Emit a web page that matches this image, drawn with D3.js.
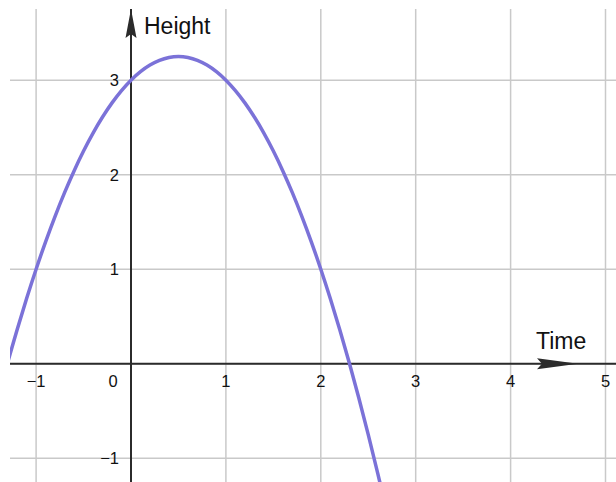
<!DOCTYPE html>
<html>
<head>
<meta charset="utf-8">
<script src="https://cdn.jsdelivr.net/npm/d3@7"></script>
<style>
  html, body { margin: 0; padding: 0; background: #fff; }
  svg { display: block; }
  text { font-family: "Liberation Sans", Arial, Helvetica, sans-serif; fill: #111; }
</style>
</head>
<body>
<svg id="chart" width="616" height="482"></svg>
<script>
// Projectile height over time (sampled points along the path)
const timeValues = [-1.3, -1.2, -1.1, -1.0, -0.9, -0.8, -0.7, -0.6, -0.5, -0.4, -0.3, -0.2, -0.1,
  0.0, 0.1, 0.2, 0.3, 0.4, 0.5, 0.6, 0.7, 0.8, 0.9, 1.0, 1.1, 1.2, 1.3, 1.4, 1.5, 1.6, 1.7,
  1.8, 1.9, 2.0, 2.1, 2.2, 2.3, 2.4, 2.5, 2.6, 2.7];
const heightValues = [0.01, 0.36, 0.69, 1.00, 1.29, 1.56, 1.81, 2.04, 2.25, 2.44, 2.61, 2.76, 2.89,
  3.00, 3.09, 3.16, 3.21, 3.24, 3.25, 3.24, 3.21, 3.16, 3.09, 3.00, 2.89, 2.76, 2.61, 2.44, 2.25, 2.04, 1.81,
  1.56, 1.29, 1.00, 0.69, 0.36, 0.01, -0.36, -0.75, -1.16, -1.59];

const xTicks = [-1, 0, 1, 2, 3, 4, 5];
const yTicks = [-1, 1, 2, 3];
const xLabel = "Time";
const yLabel = "Height";

const svg = d3.select("#chart");
const plot = { left: 10, top: 9, right: 616, bottom: 482 };

const x = d3.scaleLinear().domain([0, 1]).range([131, 225.9]);
const y = d3.scaleLinear().domain([0, 1]).range([363.7, 269.2]);

svg.append("defs").append("clipPath").attr("id", "plotClip")
  .append("rect")
  .attr("x", plot.left).attr("y", plot.top)
  .attr("width", plot.right - plot.left).attr("height", plot.bottom - plot.top);

// Grid
const grid = svg.append("g").attr("stroke", "#c9c9c9").attr("stroke-width", 1.5);
grid.selectAll("line.v").data(xTicks).join("line")
  .attr("class", "v")
  .attr("x1", d => x(d)).attr("x2", d => x(d))
  .attr("y1", plot.top).attr("y2", plot.bottom);
grid.selectAll("line.h").data(yTicks.concat([0])).join("line")
  .attr("class", "h")
  .attr("x1", plot.left).attr("x2", plot.right)
  .attr("y1", d => y(d)).attr("y2", d => y(d));

// Axes
const axes = svg.append("g").attr("stroke", "#2b2b2b").attr("stroke-width", 2);
axes.append("line")
  .attr("x1", plot.left).attr("x2", plot.right)
  .attr("y1", y(0)).attr("y2", y(0));
axes.append("line")
  .attr("x1", x(0)).attr("x2", x(0))
  .attr("y1", plot.top).attr("y2", plot.bottom);

// Arrow heads
const ax0 = x(0), ay0 = y(0);
svg.append("path")
  .attr("fill", "#2b2b2b")
  .attr("d", `M${ax0},${plot.top} L${ax0 + 5.5},${plot.top + 29} L${ax0},${plot.top + 25} L${ax0 - 5.5},${plot.top + 29} Z`);
svg.append("path")
  .attr("fill", "#2b2b2b")
  .attr("d", `M578,${ay0} L${578 - 41},${ay0 - 5.5} L${578 - 36},${ay0} L${578 - 41},${ay0 + 5.5} Z`);

// Tick labels
const fmt = d => d < 0 ? "\u2212" + Math.abs(d) : String(d);
svg.append("g").selectAll("text").data(xTicks).join("text")
  .attr("x", d => d === 0 ? x(0) - 18 : x(d))
  .attr("y", ay0 + 23)
  .attr("text-anchor", "middle")
  .attr("font-size", 16.5)
  .text(fmt);
svg.append("g").selectAll("text").data(yTicks).join("text")
  .attr("x", x(0) - 12)
  .attr("y", d => y(d) + 6)
  .attr("text-anchor", "end")
  .attr("font-size", 16.5)
  .text(fmt);

// Axis titles
svg.append("text").attr("x", 144).attr("y", 34).attr("font-size", 23).text(yLabel);
svg.append("text").attr("x", 536).attr("y", 348.5).attr("font-size", 23).text(xLabel);

// Curve
const pts = timeValues.map((t, i) => [t, heightValues[i]]);
svg.append("path")
  .datum(pts)
  .attr("clip-path", "url(#plotClip)")
  .attr("fill", "none")
  .attr("stroke", "#7b72d8")
  .attr("stroke-width", 3.5)
  .attr("d", d3.line().x(d => x(d[0])).y(d => y(d[1])).curve(d3.curveCatmullRom));
</script>
</body>
</html>
